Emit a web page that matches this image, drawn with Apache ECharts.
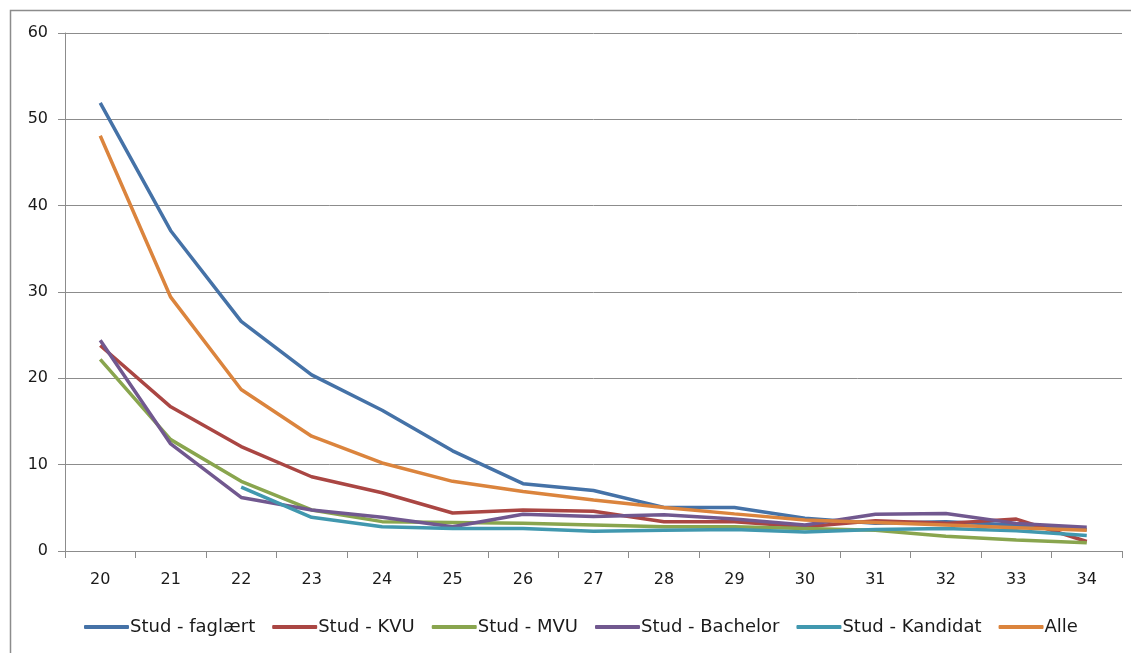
<!DOCTYPE html>
<html><head><meta charset="utf-8">
<script src="https://cdn.jsdelivr.net/npm/echarts@6/dist/echarts.min.js"></script>
<style>html,body{margin:0;padding:0;background:#fff}#c{width:1131px;height:653px}</style>
</head><body><div id="c"></div>
<script>
const categories = ['20','21','22','23','24','25','26','27','28','29','30','31','32','33','34'];
const studFaglaert = [51.9,37.1,26.6,20.4,16.3,11.6,7.8,7.0,5.05,5.05,3.8,3.2,3.4,3.0,2.5];
const studKVU = [23.8,16.7,12.1,8.6,6.75,4.4,4.75,4.6,3.4,3.4,2.8,3.5,3.2,3.7,1.1];
const studMVU = [22.2,12.9,8.07,4.75,3.4,3.3,3.2,3.0,2.8,2.8,2.6,2.4,1.7,1.27,0.96];
const studBachelor = [24.4,12.4,6.2,4.75,3.9,2.8,4.25,4.0,4.2,3.7,3.0,4.25,4.35,3.2,2.75];
const studKandidat = [null,null,7.4,3.9,2.8,2.6,2.6,2.3,2.4,2.5,2.2,2.5,2.6,2.35,1.8];
const alle = [48.1,29.4,18.7,13.3,10.2,8.07,6.9,5.9,5.05,4.3,3.6,3.3,3.0,2.7,2.4];
const seriesNames = ['Stud - faglært','Stud - KVU','Stud - MVU','Stud - Bachelor','Stud - Kandidat','Alle'];
const seriesData = [studFaglaert, studKVU, studMVU, studBachelor, studKandidat, alle];
const colors = ['#4572a7','#aa4643','#89a54e','#71588f','#4198af','#db843d'];

const chart = echarts.init(document.getElementById('c'), null, {renderer:'canvas'});
const font = 'DejaVu Sans';
chart.setOption({
  animation:false,
  color: colors,
  graphic:[{type:'rect', shape:{x:10.5,y:10.5,width:1130,height:660}, style:{fill:'none', stroke:'#8c8c8c', lineWidth:1.5}, silent:true}],
  grid:{left:65, right:9, top:33, bottom:102, containLabel:false},
  legend:{
    bottom:12, left:79, itemWidth:45, itemHeight:4, itemGap:17,
    icon:'roundRect',
    textStyle:{fontFamily:font, fontSize:18, color:'#1a1a1a', padding:[0,0,0,-4]},
    data: seriesNames
  },
  xAxis:{
    type:'category', data:categories, boundaryGap:true,
    axisLine:{lineStyle:{color:'#8c8c8c', width:1}},
    axisTick:{show:true, length:7, lineStyle:{color:'#8c8c8c'}},
    axisLabel:{fontFamily:font, fontSize:16, color:'#1a1a1a', margin:21}
  },
  yAxis:{
    type:'value', min:0, max:60, interval:10,
    axisLine:{show:true, lineStyle:{color:'#8c8c8c'}},
    axisTick:{show:true, length:7, lineStyle:{color:'#8c8c8c'}},
    axisLabel:{fontFamily:font, fontSize:16, color:'#1a1a1a', margin:17},
    splitLine:{lineStyle:{color:'#8c8c8c', width:1}}
  },
  series: seriesNames.map((n,i)=>({
    name:n, type:'line', data:seriesData[i], symbol:'none',
    lineStyle:{width:3.5, color:colors[i]}, connectNulls:false
  }))
});
</script></body></html>
